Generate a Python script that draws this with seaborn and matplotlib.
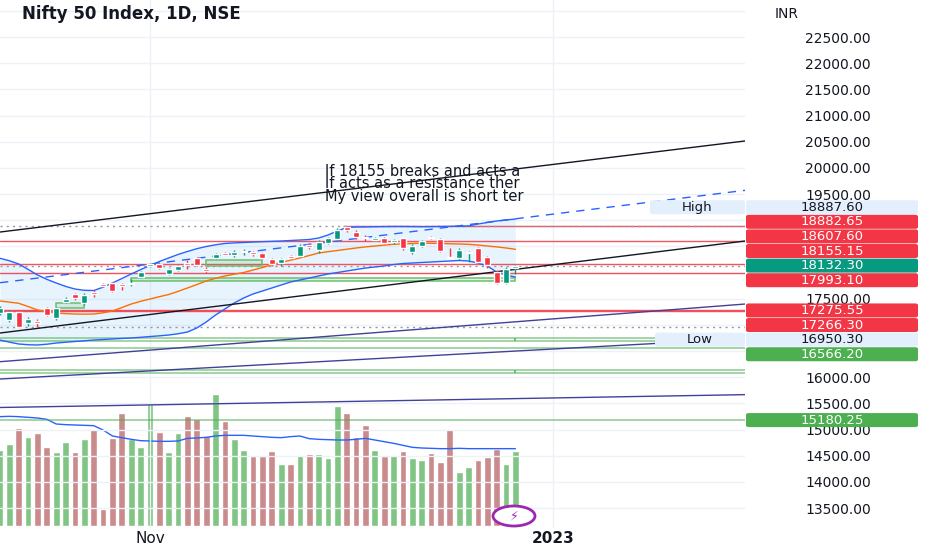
import numpy as np
import seaborn as sns
import matplotlib.pyplot as plt
from matplotlib.patches import FancyBboxPatch, Ellipse, Rectangle

# Nifty 50 daily bars, 7 Oct 2022 .. 27 Dec 2022 (bar index 0..55)
opens = [17226, 17093, 17246, 17035, 17079, 17322, 17131, 17437, 17590, 17418,
         17628, 17781, 17800, 17781, 17781, 17914, 18125, 18163, 17972, 18048,
         18182, 18278, 18067, 18278, 18373, 18335, 18392, 18392, 18373, 18258,
         18182, 18316, 18316, 18526, 18430, 18564, 18641, 18870, 18774, 18679,
         18621, 18660, 18583, 18660, 18392, 18507, 18679, 18641, 18297, 18278,
         18373, 18469, 18297, 18010, 17800, 18086]
highs = [17360, 17284, 17265, 17150, 17112, 17347, 17347, 17532, 17615, 17609,
         17666, 17806, 17825, 17806, 17870, 18035, 18182, 18182, 18086, 18150,
         18239, 18303, 18106, 18367, 18398, 18430, 18443, 18411, 18398, 18283,
         18283, 18335, 18539, 18558, 18621, 18685, 18845, 18887.6, 18813, 18717,
         18679, 18673, 18641, 18666, 18539, 18628, 18704, 18666, 18462, 18462,
         18411, 18482, 18322, 18048, 18100, 18144]
lows = [17188, 17055, 16950.3, 16978, 16959, 17169, 17093, 17423, 17475, 17379,
        17538, 17723, 17634, 17666, 17742, 17890, 18106, 18067, 17958, 18035,
        18067, 18125, 17991, 18258, 18329, 18297, 18341, 18316, 18258, 18131,
        18131, 18252, 18303, 18443, 18367, 18539, 18621, 18781, 18641, 18602,
        18602, 18539, 18539, 18430, 18348, 18494, 18641, 18398, 18272, 18239,
        18207, 18176, 18081, 17781, 17775, 17972]
closes = [17322, 17246, 16959, 17112, 17035, 17188, 17322, 17494, 17513, 17570,
          17590, 17742, 17647, 17742, 17800, 18010, 18163, 18086, 18067, 18125,
          18144, 18144, 18029, 18354, 18335, 18392, 18411, 18354, 18278, 18163,
          18258, 18278, 18507, 18488, 18583, 18660, 18813, 18813, 18679, 18660,
          18660, 18564, 18621, 18469, 18507, 18602, 18660, 18411, 18278, 18430,
          18392, 18201, 18144, 17800, 18067, 18132.3]
volumes = [228, 245, 295, 267, 279, 238, 223, 251, 221, 261,
           290, 50, 263, 339, 262, 237, 366, 283, 223, 279,
           329, 321, 270, 395, 316, 262, 229, 210, 209, 224,
           187, 187, 214, 216, 216, 205, 361, 339, 266, 302,
           228, 210, 213, 226, 204, 197, 219, 193, 291, 163,
           178, 197, 206, 232, 186, 224]
vol_ma = [328, 329, 328, 326, 324, 320, 306, 304, 303, 302,
          301, 288, 270, 265, 260, 256, 255, 254, 254, 255,
          263, 264, 266, 270, 272, 272, 272, 270, 268, 266,
          265, 268, 270, 262, 260, 259, 258, 258, 260, 263,
          258, 253, 248, 242, 236, 234, 233, 232, 232, 233,
          232, 232, 232, 232, 232, 232]

# Bollinger bands
bb_upper = [18272, 18225, 18163, 18060, 17953, 17870, 17800, 17735, 17685, 17660,
            17656, 17720, 17800, 17885, 17972, 18055, 18134, 18210, 18278, 18345,
            18402, 18455, 18497, 18530, 18555, 18566, 18574, 18582, 18589, 18596,
            18602, 18612, 18621, 18631, 18660, 18717, 18793, 18860, 18870, 18872,
            18875, 18878, 18880, 18880, 18878, 18876, 18878, 18880, 18882, 18885,
            18890, 18927, 18956, 18985, 19004, 19023]
bb_basis = [17456, 17435, 17412, 17350, 17284, 17250, 17226, 17215, 17207, 17205,
            17207, 17230, 17265, 17330, 17398, 17450, 17494, 17538, 17580, 17640,
            17704, 17770, 17838, 17890, 17934, 17968, 18000, 18048, 18096, 18145,
            18192, 18235, 18278, 18325, 18373, 18398, 18421, 18445, 18469, 18490,
            18507, 18524, 18539, 18548, 18555, 18558, 18559, 18555, 18549, 18545,
            18539, 18525, 18507, 18490, 18469, 18444]
bb_lower = [16710, 16670, 16634, 16620, 16615, 16630, 16653, 16668, 16682, 16696,
            16710, 16720, 16730, 16740, 16749, 16762, 16777, 16790, 16806, 16830,
            16863, 16940, 17054, 17188, 17303, 17418, 17513, 17590, 17647, 17704,
            17762, 17819, 17857, 17895, 17934, 17972, 18000, 18029, 18058, 18086,
            18106, 18125, 18153, 18172, 18182, 18192, 18201, 18211, 18220, 18230,
            18220, 18182, 18125, 18010, 17953, 17914]

x_tick_pos = [16, 59]
x_tick_labels = ["Nov", "2023"]
shown_price_ticks = [22500, 22000, 21500, 21000, 20500, 20000, 19500,
                     17500, 16000, 15500, 15000, 14500, 14000, 13500]

# drawings on the chart
black_lines = [((0, 18774), (80, 20525)), ((0, 16844), (80, 18613))]
purple_lines = [((0, 16296), (80, 17405)), ((0, 15965), (80, 16742)),
                ((0, 15421), (80, 15668))]
dashed_line = ((0, 17805), (80, 19582))
red_levels = [18607.60, 18155.15, 17993.10, 17275.55, 17266.30]
red_top_level = 18882.65
red_top_start = 36.6
dotted_levels = [18887.60, 18132.30, 16950.30]
green_levels = [16743, 16691, 16566.20, 16137, 16086, 15180.25]
green_zone_edges = [(16691, 16743), (16086, 16137)]
green_boxes = [(6, 9, 17322, 17418), (22, 28, 18125, 18239), (14, 55, 17844, 17890)]

note_lines = ["If 18155 breaks and acts a",
              "If acts as a resistance ther",
              "My view overall is short ter"]

# right scale price labels
label_values = [18887.60, 18882.65, 18607.60, 18155.15, 18132.30, 17993.10,
                17275.55, 17266.30, 16950.30, 16566.20, 15180.25]
label_bg = ["#e3effd", "#f23645", "#f23645", "#f23645", "#089981", "#f23645",
            "#f23645", "#f23645", "#e3effd", "#4caf50", "#4caf50"]
last_price_idx = 4

sns.set_style("white")
plt.rcParams["font.family"] = ["DejaVu Sans"]

W, H = 932, 550
fig = plt.figure(figsize=(W / 100, H / 100), dpi=100)
ax = fig.add_axes([0, 22 / H, 745 / W, 528 / H])
ax.set_xlim(0, 79.5)
ax.set_ylim(13118, 23208)

idx = np.arange(len(opens))
o = np.array(opens, dtype=float)
c = np.array(closes, dtype=float)
up = c >= o
candle_col = np.where(up, "#089981", "#f23645")

# volume in its own overlay axis at the bottom
ax2 = ax.twinx()
ax2.set_ylim(-6, 1578)
ax2.bar(idx, volumes, width=0.72, color=np.where(up, "#81c585", "#c98b8b"), zorder=1)
sns.lineplot(x=idx, y=vol_ma, ax=ax2, color="#2962ff", linewidth=1, zorder=2)
ax2.set_zorder(ax.get_zorder() - 1)
ax.patch.set_visible(False)
ax2.set_yticks([])
ax2.set_ylabel("")
for s in ax2.spines.values():
    s.set_visible(False)

# grid and scales
grid_ticks = list(range(13500, 23001, 500))
ax.set_yticks(grid_ticks)
ax.set_yticklabels([f"{t:.2f}" if t in shown_price_ticks else "" for t in grid_ticks])
ax.yaxis.tick_right()
ax.tick_params(axis="y", length=0, pad=67, labelsize=10, labelcolor="#131722")
for lab in ax.get_yticklabels():
    lab.set_ha("center")
ax.set_xticks(x_tick_pos, x_tick_labels)
ax.tick_params(axis="x", length=0, pad=2, labelsize=11, labelcolor="#131722")
ax.get_xticklabels()[1].set_fontweight("bold")
ax.grid(True, color="#eef1f7", linewidth=1)
ax.set_axisbelow(True)
for s in ax.spines.values():
    s.set_visible(False)

# Bollinger bands
ax.fill_between(idx, bb_lower, bb_upper, color="#90caf9", alpha=0.2, linewidth=0, zorder=1)
sns.lineplot(x=idx, y=bb_upper, ax=ax, color="#2962ff", linewidth=1, zorder=3)
sns.lineplot(x=idx, y=bb_lower, ax=ax, color="#2962ff", linewidth=1, zorder=3)
sns.lineplot(x=idx, y=bb_basis, ax=ax, color="#ff6d00", linewidth=1, zorder=3)

# horizontal levels
for lv in red_levels:
    ax.axhline(lv, color="#f23645", linewidth=1, alpha=0.85, zorder=2)
ax.hlines(red_top_level, red_top_start, 79.5, color="#f23645", linewidth=1, alpha=0.85, zorder=2)
for lv in dotted_levels:
    ax.axhline(lv, color="#9598a1", linewidth=1, linestyle=(0, (1.5, 3)), zorder=2)
for lv in green_levels:
    ax.axhline(lv, color="#4caf50", linewidth=1.1, alpha=0.65, zorder=2)
for lo, hi in green_zone_edges:
    ax.vlines(55, lo, hi, color="#4caf50", linewidth=1.1, zorder=2)
for x0, x1, lo, hi in green_boxes:
    ax.add_patch(Rectangle((x0, lo), x1 - x0, hi - lo, facecolor="#4caf50", alpha=0.15,
                           edgecolor="none", zorder=2))
    ax.add_patch(Rectangle((x0, lo), x1 - x0, hi - lo, facecolor="none",
                           edgecolor="#6bbf6e", linewidth=1.1, zorder=2))

# trend lines
for p1, p2 in black_lines:
    ax.axline(p1, p2, color="#131722", linewidth=1, zorder=3)
for p1, p2 in purple_lines:
    ax.axline(p1, p2, color="#41409a", linewidth=1, zorder=3)
ax.axline(dashed_line[0], dashed_line[1], color="#2962ff", linewidth=1,
          linestyle=(0, (6, 5)), zorder=3)

# candles
ax.vlines(idx, lows, highs, colors=candle_col, linewidth=1, zorder=5)
body = np.maximum(np.abs(c - o), 15)
ax.bar(idx, body, bottom=np.minimum(o, c), width=0.64, color=candle_col, zorder=6)

# note text
for k, line in enumerate(note_lines):
    ax.text(325 / 745, (528 - 172 - 12 * k) / 528, line, transform=ax.transAxes,
            fontsize=10.5, color="#131722", va="center", ha="left", clip_on=True, zorder=7)

fig.text(22 / W, 1 - 14 / H, "Nifty 50 Index, 1D, NSE", fontsize=12,
         fontweight="bold", color="#131722", va="center")
fig.text(775 / W, 1 - 14 / H, "INR", fontsize=10, color="#131722", va="center")

# stack price labels the way the price scale does
desired = [ax.transData.transform((0, v))[1] for v in label_values]
pos = list(desired)
gap = 14.6
for k in range(last_price_idx - 1, -1, -1):
    pos[k] = max(desired[k], pos[k + 1] + gap)
for k in range(last_price_idx + 1, len(pos)):
    pos[k] = min(desired[k], pos[k - 1] - gap)


def label_box(x0, x1, yc, bg, text, fg):
    fig.add_artist(FancyBboxPatch((x0 / W, (yc - 7) / H), (x1 - x0) / W, 14 / H,
                                  boxstyle="round,pad=0,rounding_size=0.003",
                                  transform=fig.transFigure, facecolor=bg,
                                  edgecolor="none", zorder=5))
    fig.text((x0 + x1) / 2 / W, yc / H, text, ha="center", va="center",
             fontsize=9.5, color=fg, zorder=6)


for v, yc, bg in zip(label_values, pos, label_bg):
    fg = "#131722" if bg == "#e3effd" else "white"
    label_box(746, 918, yc, bg, f"{v:.2f}", fg)
label_box(650, 745, pos[0], "#e3effd", "High", "#131722")
label_box(655, 745, pos[8], "#e3effd", "Low", "#131722")

# small lightning badge
fig.add_artist(Ellipse((514 / W, 1 - 516 / H), 42 / W, 20 / H, transform=fig.transFigure,
                       facecolor="white", edgecolor="#9c27b0", linewidth=2, zorder=5))
fig.text(514 / W, 1 - 516 / H, "\u26a1", ha="center", va="center", fontsize=9,
         color="#9c27b0", zorder=6)

fig.savefig("out.png", dpi=100)
